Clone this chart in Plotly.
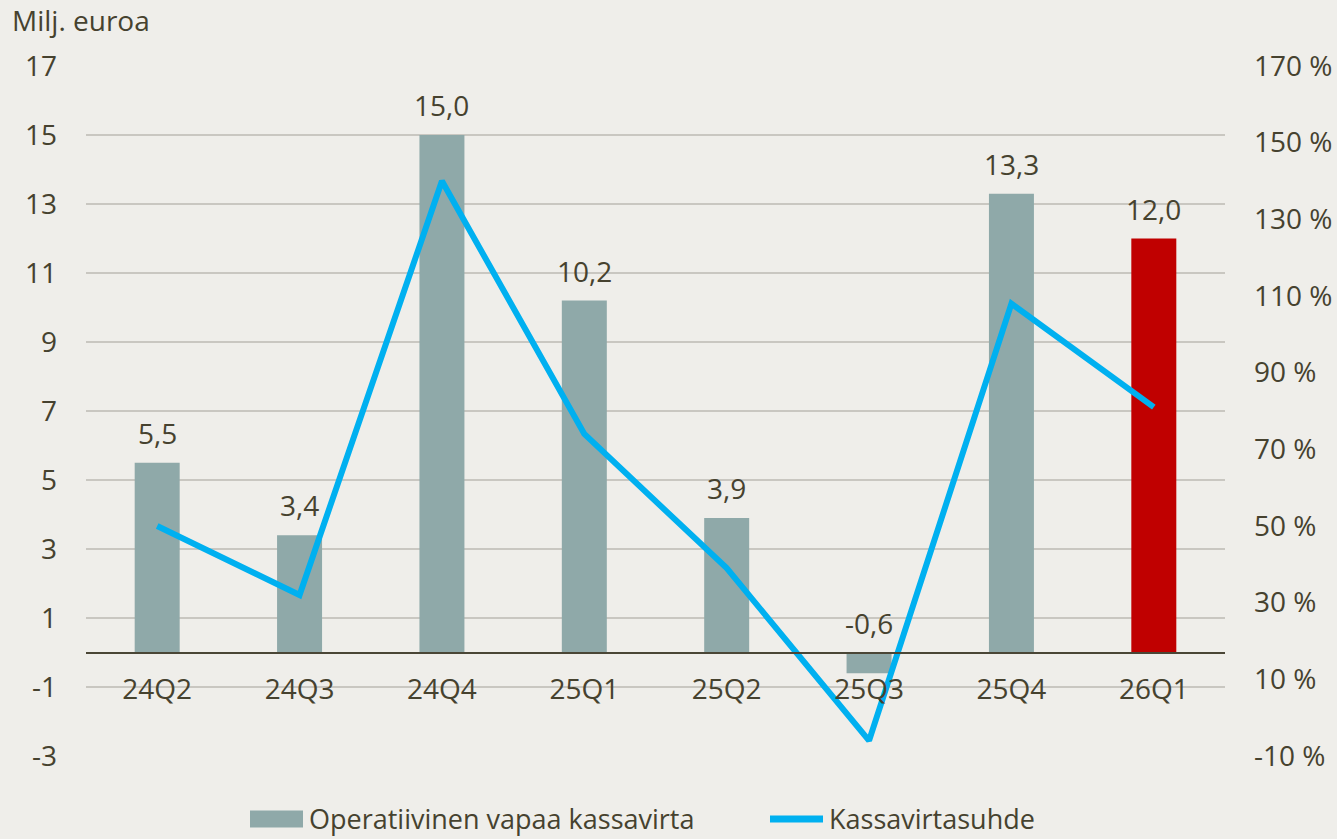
import plotly.graph_objects as go

categories = ["24Q2", "24Q3", "24Q4", "25Q1", "25Q2", "25Q3", "25Q4", "26Q1"]
cash_flow = [5.5, 3.4, 15.0, 10.2, 3.9, -0.6, 13.3, 12.0]
cash_ratio = [50, 32, 140, 74, 39, -6, 108, 81]
bar_colors = ["#8FA9A9"] * 7 + ["#C00000"]
left_ticks = [-3, -1, 1, 3, 5, 7, 9, 11, 13, 15, 17]
right_ticks = [-10, 10, 30, 50, 70, 90, 110, 130, 150, 170]
series_names = ["Operatiivinen vapaa kassavirta", "Kassavirtasuhde"]

BG = "#EFEEEA"
TXT = "#46422F"
GRID = "#C9C7C1"
GRAY = "#8FA9A9"
BLUE = "#00B0F0"
FONT = "Open Sans"
FS = 28

W, H = 1337, 839
ML, MR, MT, MB = 86, 112, 66, 83
PW, PH = W - ML - MR, H - MT - MB


def px(xp):
    return (xp - ML) / PW


def py(yp):
    return (H - MB - yp) / PH


labels = [f"{v:.1f}".replace(".", ",") for v in cash_flow]
label_y = [max(v, 0) for v in cash_flow]

fig = go.Figure()
fig.add_trace(go.Bar(
    x=categories, y=cash_flow, marker=dict(color=bar_colors, line=dict(width=0)),
    name=series_names[0], width=0.316, showlegend=False,
))
fig.add_trace(go.Scatter(
    x=categories, y=cash_ratio, mode="lines", name=series_names[1],
    line=dict(color=BLUE, width=6), yaxis="y2", showlegend=False,
))

annotations = [dict(
    text="Milj. euroa", xref="paper", yref="paper", x=px(10), y=py(20),
    xanchor="left", yanchor="middle", showarrow=False,
    font=dict(family=FONT, size=FS, color=TXT),
)]
for c, yv, t in zip(categories, label_y, labels):
    annotations.append(dict(
        x=c, y=yv, xref="x", yref="y", text=t, showarrow=False,
        xanchor="center", yanchor="middle", yshift=30,
        font=dict(family=FONT, size=FS, color=TXT),
    ))

# legend (drawn manually to match swatch sizes)
LEG_Y = 819
LEG_FS = 27
shapes = [
    dict(type="rect", xref="paper", yref="paper", x0=px(250), x1=px(303),
         y0=py(LEG_Y + 8.5), y1=py(LEG_Y - 8.5), fillcolor=GRAY, line=dict(width=0)),
    dict(type="line", xref="paper", yref="paper", x0=px(770), x1=px(823),
         y0=py(LEG_Y), y1=py(LEG_Y), line=dict(color=BLUE, width=7)),
]
annotations.append(dict(
    text=series_names[0], xref="paper", yref="paper", x=px(307), y=py(LEG_Y),
    xanchor="left", yanchor="middle", showarrow=False,
    font=dict(family=FONT, size=LEG_FS, color=TXT),
))
annotations.append(dict(
    text=series_names[1], xref="paper", yref="paper", x=px(827), y=py(LEG_Y),
    xanchor="left", yanchor="middle", showarrow=False,
    font=dict(family=FONT, size=LEG_FS, color=TXT),
))

fig.update_layout(
    width=W, height=H,
    paper_bgcolor=BG, plot_bgcolor=BG,
    margin=dict(l=ML, r=MR, t=MT, b=MB, autoexpand=False),
    font=dict(family=FONT, size=FS, color=TXT),
    barmode="overlay",
    showlegend=False,
    xaxis=dict(
        type="category", anchor="free", position=3 / 20, automargin=False,
        showline=True, linecolor="#4A4636", linewidth=2,
        ticks="outside", ticklen=12, tickcolor="rgba(0,0,0,0)",
        showgrid=False, zeroline=False,
        tickfont=dict(family=FONT, size=FS, color=TXT),
    ),
    yaxis=dict(
        range=[-3, 17], tickvals=left_ticks, ticktext=[str(v) for v in left_ticks],
        showgrid=True, gridcolor=GRID, gridwidth=1.5, automargin=False,
        zeroline=False, showline=False, ticklabelstandoff=28,
        tickfont=dict(family=FONT, size=FS, color=TXT),
    ),
    yaxis2=dict(
        range=[-10, 170], tickvals=right_ticks, ticktext=[f"{v} %" for v in right_ticks],
        overlaying="y", side="right", automargin=False,
        showgrid=False, zeroline=False, showline=False,
        ticklabelstandoff=28,
        tickfont=dict(family=FONT, size=FS, color=TXT),
    ),
    annotations=annotations,
    shapes=shapes,
)

fig.write_html(
    "out.html",
    config={"displayModeBar": False},
    post_script="document.body.style.margin='0';document.documentElement.style.overflow='hidden';",
)
